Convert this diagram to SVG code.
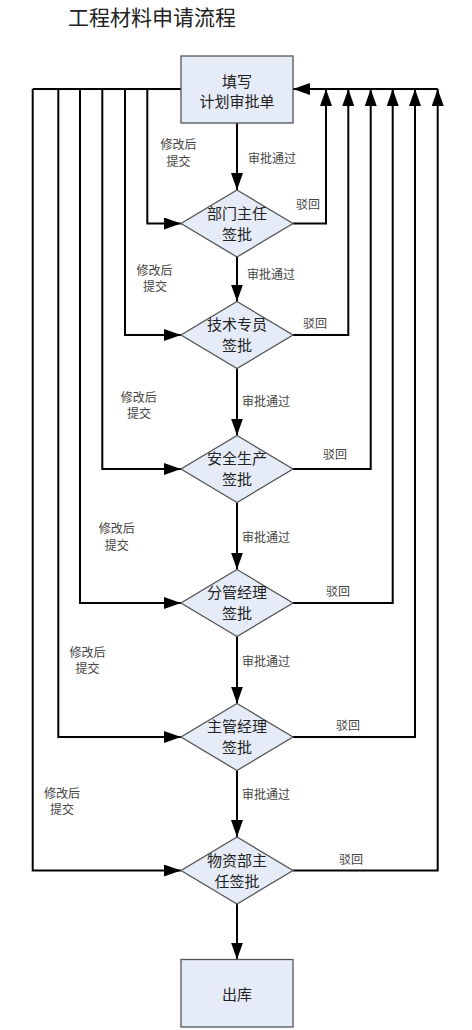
<svg xmlns="http://www.w3.org/2000/svg" width="472" height="1030" viewBox="0 0 472 1030">
<style>
text{font-family:"Noto Sans CJK SC","Noto Sans",sans-serif;dominant-baseline:central}
.title{font-size:21px;fill:#222}
.node{fill:#E6ECF7;stroke:#555;stroke-width:1.3}
.nt{font-size:15px;fill:#222;text-anchor:middle}
.lbl{font-size:12px;fill:#444}
.mid{text-anchor:middle}
.c{fill:none;stroke:#000;stroke-width:2}
</style>
<defs>
<marker id="ah" markerUnits="userSpaceOnUse" markerWidth="18" markerHeight="12" refX="17" refY="6" orient="auto"><path d="M0,0 L17,6 L0,12 z" fill="#000"/></marker>
</defs>
<rect width="472" height="1030" fill="#fff"/>
<text class="title" x="68" y="16">工程材料申请流程</text>
<g id="connectors">
<!-- top horizontal lines -->
<path class="c" d="M181,89 H32.7"/>
<path class="c" d="M437.7,89 H293" marker-end="url(#ah)"/>
<!-- main flow -->
<path class="c" d="M237,123 V190" marker-end="url(#ah)"/>
<path class="c" d="M237,257 V301.5" marker-end="url(#ah)"/>
<path class="c" d="M237,368.5 V435.5" marker-end="url(#ah)"/>
<path class="c" d="M237,502.5 V569.5" marker-end="url(#ah)"/>
<path class="c" d="M237,636.5 V703.5" marker-end="url(#ah)"/>
<path class="c" d="M237,770.5 V837" marker-end="url(#ah)"/>
<path class="c" d="M237,904 V959.5" marker-end="url(#ah)"/>
<!-- resubmit lines (left) -->
<path class="c" d="M147.3,89 V223.5 H181" marker-end="url(#ah)"/>
<path class="c" d="M125,89 V335 H181" marker-end="url(#ah)"/>
<path class="c" d="M102.3,89 V469 H181" marker-end="url(#ah)"/>
<path class="c" d="M80,89 V603 H181" marker-end="url(#ah)"/>
<path class="c" d="M58.3,89 V737 H181" marker-end="url(#ah)"/>
<path class="c" d="M32.7,89 V870.5 H181" marker-end="url(#ah)"/>
<!-- reject lines (right) -->
<path class="c" d="M293,223.5 H326 V89" marker-end="url(#ah)"/>
<path class="c" d="M293,335 H348.3 V89" marker-end="url(#ah)"/>
<path class="c" d="M293,469 H370.7 V89" marker-end="url(#ah)"/>
<path class="c" d="M293,603 H392.7 V89" marker-end="url(#ah)"/>
<path class="c" d="M293,737 H415 V89" marker-end="url(#ah)"/>
<path class="c" d="M293,870.5 H437.7 V89" marker-end="url(#ah)"/>
<!-- labels -->
<text class="lbl" x="248" y="157">审批通过</text>
<text class="lbl" x="247" y="273">审批通过</text>
<text class="lbl" x="242" y="400">审批通过</text>
<text class="lbl" x="242" y="536">审批通过</text>
<text class="lbl" x="242" y="660">审批通过</text>
<text class="lbl" x="242" y="793">审批通过</text>
<text class="lbl mid" x="178.5" y="143">修改后</text>
<text class="lbl mid" x="178.5" y="160">提交</text>
<text class="lbl mid" x="154.5" y="269">修改后</text>
<text class="lbl mid" x="155" y="285">提交</text>
<text class="lbl mid" x="138.7" y="396">修改后</text>
<text class="lbl mid" x="139" y="412">提交</text>
<text class="lbl mid" x="116.7" y="527">修改后</text>
<text class="lbl mid" x="116.7" y="544">提交</text>
<text class="lbl mid" x="87.5" y="651">修改后</text>
<text class="lbl mid" x="87.5" y="667">提交</text>
<text class="lbl mid" x="62" y="792">修改后</text>
<text class="lbl mid" x="62" y="808">提交</text>
<text class="lbl" x="296" y="203">驳回</text>
<text class="lbl" x="303" y="322">驳回</text>
<text class="lbl" x="323" y="453">驳回</text>
<text class="lbl" x="326" y="590">驳回</text>
<text class="lbl" x="336" y="724">驳回</text>
<text class="lbl" x="339" y="858">驳回</text>
</g>
<g id="start">
<rect class="node" x="181" y="56" width="112" height="67"/>
<text class="nt" x="237" y="80">填写</text>
<text class="nt" x="237" y="100">计划审批单</text>
</g>
<g id="d1">
<polygon class="node" points="237,190 293,223.5 237,257 181,223.5"/>
<text class="nt" x="237" y="212.5">部门主任</text>
<text class="nt" x="237" y="233">签批</text>
</g>
<g id="d2">
<polygon class="node" points="237,301.5 293,335 237,368.5 181,335"/>
<text class="nt" x="237" y="323.5">技术专员</text>
<text class="nt" x="237" y="344.5">签批</text>
</g>
<g id="d3">
<polygon class="node" points="237,435.5 293,469 237,502.5 181,469"/>
<text class="nt" x="237" y="457.5">安全生产</text>
<text class="nt" x="237" y="478.5">签批</text>
</g>
<g id="d4">
<polygon class="node" points="237,569.5 293,603 237,636.5 181,603"/>
<text class="nt" x="237" y="591.5">分管经理</text>
<text class="nt" x="237" y="612.5">签批</text>
</g>
<g id="d5">
<polygon class="node" points="237,703.5 293,737 237,770.5 181,737"/>
<text class="nt" x="237" y="725.5">主管经理</text>
<text class="nt" x="237" y="746.5">签批</text>
</g>
<g id="d6">
<polygon class="node" points="237,837 293,870.5 237,904 181,870.5"/>
<text class="nt" x="237" y="859">物资部主</text>
<text class="nt" x="237" y="880">任签批</text>
</g>
<g id="out">
<rect class="node" x="181" y="959.5" width="112" height="67.5"/>
<text class="nt" x="237" y="993">出库</text>
</g>
</svg>
